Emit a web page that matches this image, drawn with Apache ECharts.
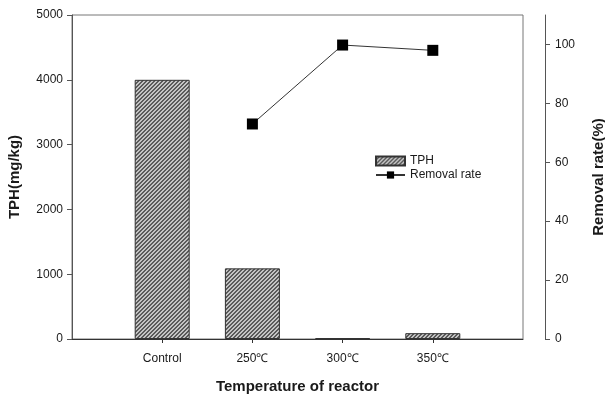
<!DOCTYPE html>
<html>
<head>
<meta charset="utf-8">
<script src="https://cdn.jsdelivr.net/npm/echarts@6/dist/echarts.min.js"></script>
<style>
  html, body { margin: 0; padding: 0; background: #fff; }
  #chart { width: 605px; height: 394px; }
</style>
</head>
<body>
<div id="chart"></div>
<script>
// Reactor temperature groups (placed at x = 1..4 on a 0..5 value axis)
const categories = ['Control', '250\u2103', '300\u2103', '350\u2103'];
const categoryPos = [1, 2, 3, 4];
// Total petroleum hydrocarbons, mg/kg
const tphValues = [4000, 1090, 15, 90];
// Removal rate, % (no value for the control)
const removalValues = [null, 73, 99.8, 98];
// Axis ticks
const leftTicks = [0, 1000, 2000, 3000, 4000, 5000];
const rightTicks = [0, 20, 40, 60, 80, 100];

// Diagonal hatch tile for the bars
function hatchTile() {
  const c = document.createElement('canvas');
  c.width = 4; c.height = 4;
  const g = c.getContext('2d');
  g.fillStyle = '#c4c4c4';
  g.fillRect(0, 0, 4, 4);
  g.fillStyle = '#5a5a5a';
  for (let i = 0; i < 4; i++) {
    const y = 3 - i;
    g.fillRect(i, y, 1, 1);
    g.fillRect(i, (y + 3) % 4, 1, 1);
  }
  return c;
}
const hatch = { image: hatchTile(), repeat: 'repeat' };

const tphData = categoryPos.map((x, i) => [x, tphValues[i]]);
const rateData = categoryPos
  .map((x, i) => [x, removalValues[i]])
  .filter(d => d[1] !== null);

const textColor = '#1a1a1a';
const axisColor = '#555';
const font = 'Liberation Sans, Arial, sans-serif';

const chart = echarts.init(document.getElementById('chart'), null, { renderer: 'canvas' });
chart.setOption({
  animation: false,
  textStyle: { fontFamily: font },
  grid: {
    left: 72, right: 82, top: 15, bottom: 55,
    outerBoundsMode: 'none', containLabel: false,
    show: true, borderColor: '#777', borderWidth: 1
  },
  legend: {
    data: [{ name: 'TPH', icon: 'rect' }, { name: 'Removal rate' }],
    orient: 'vertical',
    left: 370, top: 150,
    itemWidth: 29, itemHeight: 9, itemGap: 2,
    textStyle: { fontSize: 12, color: textColor, fontFamily: font }
  },
  xAxis: {
    type: 'value', min: 0, max: 5,
    name: 'Temperature of reactor',
    nameLocation: 'middle', nameGap: 40,
    nameTextStyle: { fontSize: 15, fontWeight: 'bold', color: textColor, fontFamily: font },
    axisLine: { lineStyle: { color: '#333', width: 1 } },
    axisTick: { show: true, length: 4, customValues: categoryPos, lineStyle: { color: '#333' } },
    axisLabel: {
      customValues: categoryPos, margin: 14,
      fontSize: 12, color: textColor, fontFamily: font,
      formatter: v => categories[categoryPos.indexOf(v)] || ''
    },
    splitLine: { show: false }
  },
  yAxis: [
    {
      type: 'value', min: 0, max: 5000, interval: 1000,
      name: 'TPH(mg/kg)', nameLocation: 'middle', nameGap: 50, nameRotate: 90,
      nameTextStyle: { fontSize: 15, fontWeight: 'bold', color: textColor, fontFamily: font },
      axisLine: { show: true, lineStyle: { color: axisColor } },
      axisTick: { show: true, length: 5, customValues: leftTicks, lineStyle: { color: axisColor } },
      axisLabel: {
        customValues: leftTicks, margin: 9, fontSize: 12, color: textColor, fontFamily: font,
        formatter: v => String(v)
      },
      splitLine: { show: false }
    },
    {
      type: 'value', min: 0, max: 110, position: 'right', offset: 22,
      name: 'Removal rate(%)', nameLocation: 'middle', nameGap: 46, nameRotate: 90,
      nameTextStyle: { fontSize: 15, fontWeight: 'bold', color: textColor, fontFamily: font },
      axisLine: { show: true, lineStyle: { color: axisColor } },
      axisTick: { show: true, length: 5, customValues: rightTicks, lineStyle: { color: axisColor } },
      axisLabel: {
        customValues: rightTicks, margin: 10, fontSize: 12, color: textColor, fontFamily: font,
        formatter: v => String(v)
      },
      splitLine: { show: false }
    }
  ],
  series: [
    {
      name: 'TPH', type: 'bar', yAxisIndex: 0,
      barWidth: 55,
      data: tphData,
      itemStyle: { color: hatch, borderColor: '#333', borderWidth: 1 }
    },
    {
      name: 'Removal rate', type: 'line', yAxisIndex: 1,
      data: rateData,
      symbol: 'rect', symbolSize: 11,
      itemStyle: { color: '#000' },
      lineStyle: { color: '#333', width: 1 }
    }
  ]
});
</script>
</body>
</html>
